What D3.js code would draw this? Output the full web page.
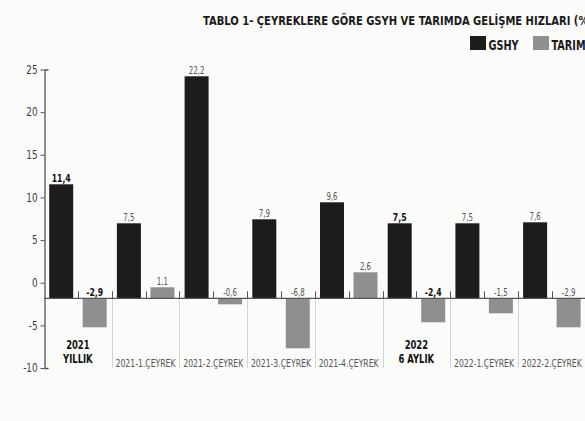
<!DOCTYPE html>
<html><head><meta charset="utf-8">
<script src="https://cdn.jsdelivr.net/npm/d3@7"></script>
<style>
body{margin:0;background:#fbfbf9;}
svg{display:block;}
text{font-family:"Liberation Sans Narrow","DejaVu Sans Condensed","Roboto Condensed",sans-serif;}
</style></head><body>
<svg id="c" width="585" height="421"></svg>
<script>
const categories = ["2021 YILLIK","2021-1.ÇEYREK","2021-2.ÇEYREK","2021-3.ÇEYREK","2021-4.ÇEYREK","2022 6 AYLIK","2022-1.ÇEYREK","2022-2.ÇEYREK"];
const categoryLines = [["2021","YILLIK"],["2021-1.ÇEYREK"],["2021-2.ÇEYREK"],["2021-3.ÇEYREK"],["2021-4.ÇEYREK"],["2022","6 AYLIK"],["2022-1.ÇEYREK"],["2022-2.ÇEYREK"]];
const highlighted = [true,false,false,false,false,true,false,false];
const series = ["GSHY","TARIM"];
const gshyValues = [11.4,7.5,22.2,7.9,9.6,7.5,7.5,7.6];
const tarimValues = [-2.9,1.1,-0.6,-6.8,2.6,-2.4,-1.5,-2.9];
const yTicks = [-10,-5,0,5,10,15,20,25];
const title = "TABLO 1- ÇEYREKLERE GÖRE GSYH VE TARIMDA GELİŞME HIZLARI (%)";
const colors = {GSHY:"#1c1c1c", TARIM:"#8f8f8f"};

const svg = d3.select("#c");
svg.append("rect").attr("width",585).attr("height",421).attr("fill","#fbfbf9");

// squeeze text horizontally to mimic a condensed typeface
function narrow(sel, f){
  sel.each(function(){
    const w = this.getComputedTextLength();
    d3.select(this).attr("textLength", w*f).attr("lengthAdjust","spacingAndGlyphs");
  });
}

const x0 = d3.scaleBand().domain(categories).range([44, 44 + 8*67.7]).padding(0);
const x1 = d3.scaleBand().domain(series).range([5.2, 62.7]).paddingInner(0.2836);
const yBar = d3.scaleLinear().domain([-5, 25]).range([348.3, 48.3]).clamp(true);
const yAx = d3.scaleLinear().domain([-10, 25]).range([368, 69.5]);
const fmt = v => d3.format(".1f")(v).replace(".", ",").replace("−","-");

// title
svg.append("text").attr("x",203).attr("y",25)
  .attr("font-size",12.5).attr("font-weight","bold").attr("fill","#1a1a1a")
  .attr("textLength",390).attr("lengthAdjust","spacingAndGlyphs")
  .text(title);

// legend
const lg = svg.append("g");
const lx = [470, 533];
series.forEach((s,i)=>{
  lg.append("rect").attr("x",lx[i]).attr("y",36).attr("width",16).attr("height",14).attr("fill",colors[s]);
  lg.append("text").attr("x",lx[i]+18.5).attr("y",49.5).attr("font-size",13.5).attr("font-weight","bold")
    .attr("fill","#1a1a1a").text(s).call(narrow,0.8);
});

// y axis
const axis = d3.axisLeft(yAx).tickValues(yTicks).tickSizeInner(4).tickSizeOuter(-4).tickPadding(3)
  .tickFormat(d=>String(d));
const ag = svg.append("g").attr("transform","translate(44.5,0)").call(axis);
ag.select(".domain").attr("stroke","#555").attr("stroke-width",1.3);
ag.selectAll(".tick line").attr("stroke","#555");
ag.selectAll(".tick text").attr("font-size",11.5).attr("fill","#3a3a3a")
  .attr("font-family",'"Liberation Sans Narrow","DejaVu Sans Condensed",sans-serif')
  .call(narrow,0.85);

const zeroY = yBar(0);

// separators
svg.selectAll("line.sep").data(categories.slice(1)).enter().append("line")
  .attr("class","sep")
  .attr("x1",d=>Math.round(x0(d))+0.5).attr("x2",d=>Math.round(x0(d))+0.5)
  .attr("y1",zeroY).attr("y2",368).attr("stroke","#d4d4d4").attr("stroke-width",1);

// bars
const data = categories.map((c,i)=>({cat:c, i, vals:[{s:"GSHY",v:gshyValues[i]},{s:"TARIM",v:tarimValues[i]}]}));
const groups = svg.selectAll("g.grp").data(data).enter().append("g").attr("class","grp")
  .attr("transform",d=>`translate(${x0(d.cat)},0)`);
groups.selectAll("rect").data(d=>d.vals).enter().append("rect")
  .attr("x",d=>x1(d.s)).attr("width",x1.bandwidth())
  .attr("y",d=>Math.min(yBar(d.v),zeroY)).attr("height",d=>Math.abs(yBar(d.v)-zeroY))
  .attr("fill",d=>colors[d.s]);

// value labels
groups.each(function(g){
  d3.select(this).selectAll("text.val").data(g.vals).enter().append("text").attr("class","val")
    .attr("x",d=>x1(d.s)+x1.bandwidth()/2)
    .attr("y",d=>(d.v>0? yBar(d.v): zeroY)-2)
    .attr("text-anchor","middle")
    .attr("font-size",highlighted[g.i]?11:10)
    .attr("font-weight",highlighted[g.i]?"bold":"normal")
    .attr("fill",highlighted[g.i]?"#111":"#555")
    .text(d=>fmt(d.v))
    .call(narrow,0.78);
});

// baseline
svg.append("line").attr("x1",44).attr("x2",585).attr("y1",zeroY).attr("y2",zeroY)
  .attr("stroke","#555").attr("stroke-width",1.3);

// small ticks on baseline
const tickXs = [];
categories.forEach(c=>{
  tickXs.push(x0(c));
  tickXs.push(x0(c) + (x1("GSHY")+x1.bandwidth()+x1("TARIM"))/2);
});
tickXs.push(x0(categories[7])+x0.bandwidth());
svg.selectAll("line.bt").data(tickXs.slice(1)).enter().append("line").attr("class","bt")
  .attr("x1",d=>Math.round(d)+0.5).attr("x2",d=>Math.round(d)+0.5)
  .attr("y1",zeroY-7).attr("y2",zeroY).attr("stroke","#555").attr("stroke-width",1);

// category labels
groups.each(function(g){
  const lines = categoryLines[g.i];
  const cx = x0.bandwidth()/2;
  if(highlighted[g.i]){
    lines.forEach((t,k)=>{
      d3.select(this).append("text").attr("x",cx).attr("y",349+k*14)
        .attr("text-anchor","middle").attr("font-size",12).attr("font-weight","bold")
        .attr("fill","#111").text(t).call(narrow,0.78);
    });
  } else {
    d3.select(this).append("text").attr("x",cx).attr("y",367)
      .attr("text-anchor","middle").attr("font-size",10).attr("fill","#555")
      .attr("textLength",60).attr("lengthAdjust","spacingAndGlyphs").text(lines[0]);
  }
});
</script>
</body></html>
